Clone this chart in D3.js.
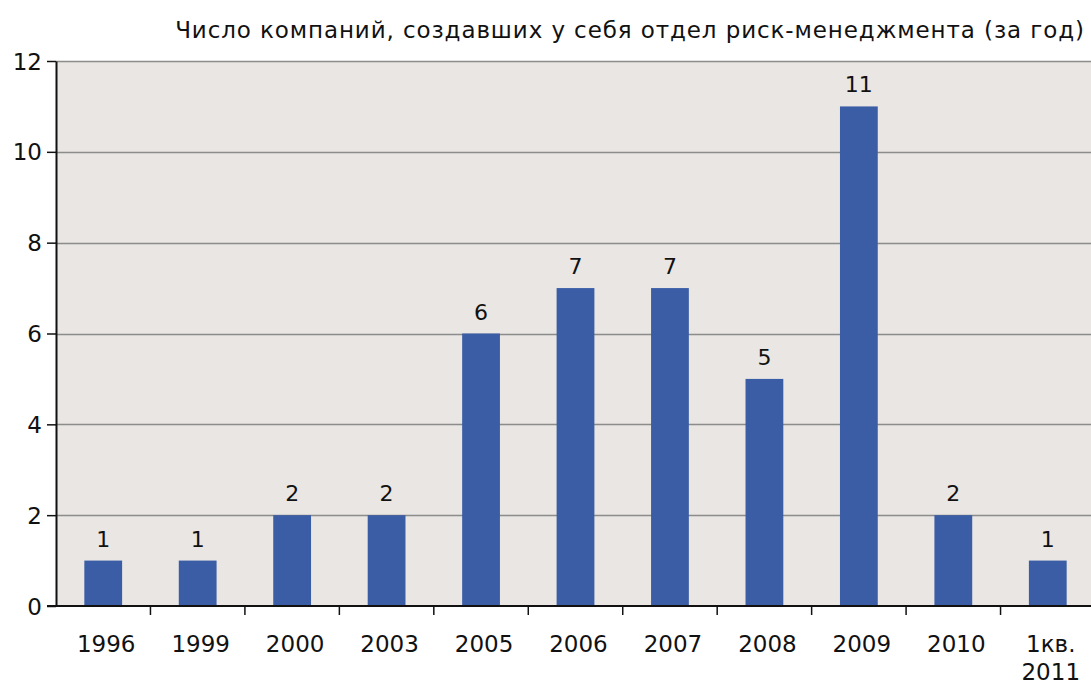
<!DOCTYPE html>
<html>
<head>
<meta charset="utf-8">
<script src="https://cdn.jsdelivr.net/npm/d3@7"></script>
<style>
  body { margin: 0; background: #fff; }
  text { font-family: "DejaVu Sans", Verdana, sans-serif; fill: #111; }
</style>
</head>
<body>
<div id="chart"></div>
<script>
// data
const categories = ['1996', '1999', '2000', '2003', '2005', '2006', '2007', '2008', '2009', '2010', '1кв.|2011']
const counts = [1, 1, 2, 2, 6, 7, 7, 5, 11, 2, 1]
const yTicks = [0, 2, 4, 6, 8, 10, 12]
const title = 'Число компаний, создавших у себя отдел риск-менеджмента (за год)'

const width = 1091
const height = 684
const margin = { top: 61, right: -4, bottom: 78, left: 56 }

const svg = d3.select('#chart').append('svg')
  .attr('width', width)
  .attr('height', height)

const x = d3.scaleBand()
  .domain(categories)
  .range([margin.left, width - margin.right])
  .paddingInner(0.6)
  .paddingOuter(0.3)

const y = d3.scaleLinear()
  .domain([0, 12])
  .range([height - margin.bottom, margin.top])

// plot background
svg.append('rect')
  .attr('x', margin.left)
  .attr('y', y(12))
  .attr('width', width - margin.right - margin.left)
  .attr('height', y(0) - y(12))
  .attr('fill', '#e9e6e3')

// gridlines
svg.append('g')
  .selectAll('line')
  .data(yTicks.filter(d => d > 0))
  .enter()
  .append('line')
  .attr('x1', margin.left)
  .attr('x2', width)
  .attr('y1', d => Math.round(y(d)) + 0.5)
  .attr('y2', d => Math.round(y(d)) + 0.5)
  .attr('stroke', '#8c8c8a')
  .attr('stroke-width', 1.5)

// bars
svg.append('g')
  .selectAll('rect')
  .data(counts)
  .enter()
  .append('rect')
  .attr('x', (d, i) => x(categories[i]))
  .attr('y', d => y(d))
  .attr('width', x.bandwidth())
  .attr('height', d => y(0) - y(d))
  .attr('fill', '#3a5da5')

// value labels
svg.append('g')
  .selectAll('text')
  .data(counts)
  .enter()
  .append('text')
  .attr('x', (d, i) => x(categories[i]) + x.bandwidth() / 2)
  .attr('y', d => y(d) - 14)
  .attr('text-anchor', 'middle')
  .attr('font-size', 22)
  .text(d => d)

// y axis
const yAxis = svg.append('g')
  .attr('transform', `translate(${margin.left},0)`)
  .call(d3.axisLeft(y).tickValues(yTicks).tickSize(9).tickPadding(5).tickSizeOuter(0))
yAxis.select('.domain').attr('stroke', '#111').attr('stroke-width', 2)
yAxis.selectAll('.tick line').attr('stroke', '#111').attr('stroke-width', 1.5)
yAxis.selectAll('.tick text').attr('font-size', 23).attr('dy', '0.35em')

// x axis: ticks between categories
const bounds = d3.range(categories.length + 1).map(i => margin.left + i * (width - margin.right - margin.left) / categories.length)
svg.append('line')
  .attr('x1', margin.left - 9)
  .attr('x2', width)
  .attr('y1', y(0))
  .attr('y2', y(0))
  .attr('stroke', '#111')
  .attr('stroke-width', 2)
svg.append('g')
  .selectAll('line')
  .data(bounds.slice(1))
  .enter()
  .append('line')
  .attr('x1', d => d)
  .attr('x2', d => d)
  .attr('y1', y(0))
  .attr('y2', y(0) + 9)
  .attr('stroke', '#111')
  .attr('stroke-width', 1.5)

const xLabels = svg.append('g')
  .selectAll('text')
  .data(categories)
  .enter()
  .append('text')
  .attr('x', d => x(d) + x.bandwidth() / 2 + 3)
  .attr('y', y(0) + 46)
  .attr('text-anchor', 'middle')
  .attr('font-size', 23)
xLabels.each(function (d) {
  const parts = d.split('|')
  d3.select(this).selectAll('tspan')
    .data(parts)
    .enter()
    .append('tspan')
    .attr('x', x(d) + x.bandwidth() / 2 + 3)
    .attr('dy', (p, i) => i === 0 ? 0 : 28)
    .text(p => p)
})

// title
svg.append('text')
  .attr('x', 630)
  .attr('y', 38)
  .attr('text-anchor', 'middle')
  .attr('font-size', 23)
  .attr('letter-spacing', 0.9)
  .text(title)
</script>
</body>
</html>
